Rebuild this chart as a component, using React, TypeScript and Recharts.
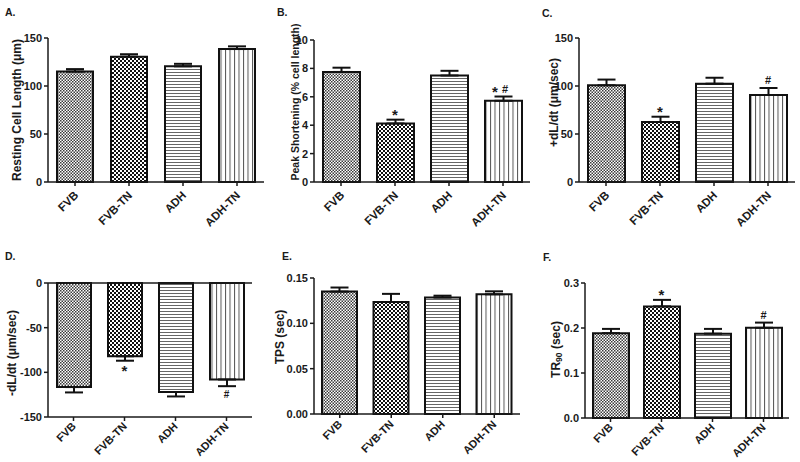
import React from 'react';
import { BarChart, Bar, XAxis, YAxis, ErrorBar, ReferenceDot, ReferenceLine, Cell } from 'recharts';

const FONT = '"Liberation Sans", Arial, Helvetica, sans-serif';
const INK = '#1a1a1a';

const groups = ['FVB', 'FVB-TN', 'ADH', 'ADH-TN'];
const fills = ['url(#patFVB)', 'url(#patFVBTN)', 'url(#patADH)', 'url(#patADHTN)'];

// A. Resting cell length (µm)
const restingLength = [115, 130.5, 120.5, 138.5];
const restingLengthSem = [2.6, 2.6, 2.6, 2.8];
const restingMarks = ['', '', '', ''];

// B. Peak shortening (% cell length)
const peakShortening = [7.75, 4.12, 7.5, 5.72];
const peakShorteningSem = [0.3, 0.27, 0.33, 0.3];
const peakMarks = ['', '*', '', '* #'];

// C. +dL/dt (µm/sec)
const plusDLdt = [100.7, 62.5, 102.4, 90.6];
const plusDLdtSem = [6, 5.5, 6.2, 7.3];
const plusMarks = ['', '*', '', '#'];

// D. -dL/dt (µm/sec)
const minusDLdt = [-116.5, -82, -122, -108];
const minusDLdtSem = [6, 5, 5, 7.5];
const minusMarks = ['', '*', '', '#'];

// E. TPS (sec)
const tps = [0.135, 0.1235, 0.1285, 0.132];
const tpsSem = [0.0045, 0.009, 0.002, 0.0033];
const tpsMarks = ['', '', '', ''];

// F. TR90 (sec)
const tr90 = [0.1885, 0.248, 0.1875, 0.2005];
const tr90Sem = [0.0095, 0.0145, 0.0105, 0.0115];
const tr90Marks = ['', '*', '', '#'];

const ticksA = [0, 50, 100, 150];
const ticksB = [0, 2, 4, 6, 8, 10];
const ticksC = [0, 50, 100, 150];
const ticksD = [-150, -100, -50, 0];
const ticksE = [0, 0.05, 0.1, 0.15];
const ticksF = [0, 0.1, 0.2, 0.3];

type Cfg = {
  left: number; top: number; width: number; height: number;
  mTop: number; mRight: number; yWidth: number; xHeight: number;
  domain: [number, number]; ticks: number[]; digits: number;
  values: number[]; sems: number[]; marks: string[]; barSize: number; negative?: boolean;
  tickDx: number; tickDy: number; tickFs: number;
};

const panels: Cfg[] = [
  { left: 0, top: 0, width: 270, height: 230, mTop: 38, mRight: 6, yWidth: 48, xHeight: 48, domain: [0, 150], ticks: ticksA, digits: 0, values: restingLength, sems: restingLengthSem, marks: restingMarks, barSize: 36, tickDx: 4, tickDy: 8, tickFs: 11.5 },
  { left: 265, top: 0, width: 270, height: 230, mTop: 40, mRight: 5, yWidth: 49, xHeight: 48, domain: [0, 10], ticks: ticksB, digits: 0, values: peakShortening, sems: peakShorteningSem, marks: peakMarks, barSize: 37, tickDx: 4, tickDy: 8, tickFs: 11.5 },
  { left: 530, top: 0, width: 270, height: 230, mTop: 38, mRight: 5, yWidth: 49, xHeight: 48, domain: [0, 150], ticks: ticksC, digits: 0, values: plusDLdt, sems: plusDLdtSem, marks: plusMarks, barSize: 37, tickDx: 4, tickDy: 8, tickFs: 11.5 },
  { left: 0, top: 230, width: 265, height: 232, mTop: 53, mRight: 13, yWidth: 48, xHeight: 45, domain: [-150, 0], ticks: ticksD, digits: 0, values: minusDLdt, sems: minusDLdtSem, marks: minusMarks, barSize: 34, negative: true, tickDx: 3, tickDy: 4, tickFs: 11 },
  { left: 265, top: 230, width: 270, height: 232, mTop: 48, mRight: 15, yWidth: 49, xHeight: 48, domain: [0, 0.15], ticks: ticksE, digits: 2, values: tps, sems: tpsSem, marks: tpsMarks, barSize: 35, tickDx: 3, tickDy: 5, tickFs: 11 },
  { left: 530, top: 230, width: 270, height: 232, mTop: 53, mRight: 11, yWidth: 55, xHeight: 44, domain: [0, 0.3], ticks: ticksF, digits: 1, values: tr90, sems: tr90Sem, marks: tr90Marks, barSize: 36, tickDx: 3, tickDy: 4, tickFs: 11 },
];

const makeXTick = (dx: number, dy: number, fs: number) => (props: any) => {
  const { x, y, payload } = props;
  return (
    <g transform={`translate(${x},${y})`}>
      <text x={dx} y={dy} transform={`rotate(-45 ${dx} ${dy})`} textAnchor="end" fontSize={fs} fontWeight="bold" fontFamily={FONT} fill={INK}>
        {payload.value}
      </text>
    </g>
  );
};

const markShape = (mark: string, negative: boolean) => (p: any) => {
  const { cx, cy } = p;
  const parts = mark.split(' ');
  return (
    <g>
      {parts.map((m, j) => {
        const dx = parts.length > 1 ? (j === 0 ? -8 : 2) : 0;
        const isStar = m === '*';
        const fs = isStar ? 15 : negative ? 10 : 11;
        const y = negative ? cy + (isStar ? 15 : 12) : cy + (isStar ? 0 : -4);
        return (
          <text key={j} x={cx + dx} y={y} textAnchor="middle" fontSize={fs} fontWeight="bold" fontFamily={FONT} fill={INK}>
            {m}
          </text>
        );
      })}
    </g>
  );
};

function Panel({ c }: { c: Cfg }) {
  const data = groups.map((g, i) => ({
    group: g,
    value: c.values[i],
    err: c.negative ? [c.sems[i], 0] : [0, c.sems[i]],
  }));
  const axisStyle = { stroke: INK, strokeWidth: 1.5 };
  return (
    <div style={{ position: 'absolute', left: c.left, top: c.top, width: c.width, height: c.height }}>
      <BarChart width={c.width} height={c.height} data={data} margin={{ top: c.mTop, right: c.mRight, bottom: 0, left: 0 }}>
        <XAxis
          dataKey="group"
          type="category"
          height={c.xHeight}
          interval={0}
          tick={makeXTick(c.tickDx, c.tickDy, c.tickFs)}
          tickSize={4}
          tickMargin={2}
          axisLine={axisStyle}
          tickLine={axisStyle}
        />
        <YAxis
          type="number"
          width={c.yWidth}
          domain={c.domain}
          ticks={c.ticks}
          interval={0}
          tickFormatter={(v: number) => v.toFixed(c.digits)}
          tick={{ fontSize: 11, fontWeight: 'bold', fill: INK, fontFamily: FONT }}
          tickSize={4}
          tickMargin={2}
          axisLine={axisStyle}
          tickLine={axisStyle}
        />
        {c.negative && <ReferenceLine y={0} stroke={INK} strokeWidth={1.5} />}
        <Bar dataKey="value" barSize={c.barSize} stroke="#111" strokeWidth={2} isAnimationActive={false}>
          {data.map((d, i) => (
            <Cell key={d.group} fill={fills[i]} />
          ))}
          <ErrorBar dataKey="err" width={9} strokeWidth={2} stroke="#111" direction="y" />
        </Bar>
        {c.marks.map((m, i) =>
          m ? (
            <ReferenceDot
              key={i}
              x={groups[i]}
              y={c.negative ? c.values[i] - c.sems[i] : c.values[i] + c.sems[i]}
              r={0}
              isFront
              shape={markShape(m, !!c.negative)}
            />
          ) : null
        )}
      </BarChart>
    </div>
  );
}

const titles = [
  { t: 'A.', x: 5, y: 15.5 },
  { t: 'B.', x: 277, y: 15.5 },
  { t: 'C.', x: 542, y: 16.5 },
  { t: 'D.', x: 5, y: 260 },
  { t: 'E.', x: 282, y: 260 },
  { t: 'F.', x: 543, y: 261 },
];

const yLabels = [
  { t: 'Resting Cell Length (μm)', x: 17, y: 110, fs: 12 },
  { t: 'Peak Shortening (% cell length)', x: 295, y: 102, fs: 10.5 },
  { t: '+dL/dt (μm/sec)', x: 554, y: 102.5, fs: 12 },
  { t: '-dL/dt (μm/sec)', x: 12, y: 353, fs: 12 },
  { t: 'TPS (sec)', x: 280, y: 337, fs: 12 },
];

export default function App() {
  return (
    <div style={{ position: 'absolute', left: 0, top: 0, width: 800, height: 462, background: '#fff', overflow: 'hidden' }}>
      <svg width={0} height={0} style={{ position: 'absolute' }}>
        <defs>
          <pattern id="patFVB" width="3" height="3" patternUnits="userSpaceOnUse">
            <rect width="3" height="3" fill="#fff" />
            <rect x="0" y="0" width="1.5" height="1.5" fill="#3a3a3a" />
            <rect x="1.5" y="1.5" width="1.5" height="1.5" fill="#3a3a3a" />
          </pattern>
          <pattern id="patFVBTN" width="4" height="4" patternUnits="userSpaceOnUse">
            <rect width="4" height="4" fill="#fff" />
            <rect x="0" y="0" width="2" height="2" fill="#111" />
            <rect x="2" y="2" width="2" height="2" fill="#111" />
          </pattern>
          <pattern id="patADH" width="3" height="3" patternUnits="userSpaceOnUse">
            <rect width="3" height="3" fill="#fff" />
            <rect x="0" y="0" width="3" height="1" fill="#666" />
          </pattern>
          <pattern id="patADHTN" width="4.5" height="4.5" patternUnits="userSpaceOnUse">
            <rect width="4.5" height="4.5" fill="#fff" />
            <rect x="0" y="0" width="1" height="4.5" fill="#555" />
          </pattern>
        </defs>
      </svg>
      {panels.map((c, i) => (
        <Panel key={i} c={c} />
      ))}
      <svg width={800} height={462} style={{ position: 'absolute', left: 0, top: 0, pointerEvents: 'none' }}>
        {titles.map((d) => (
          <text key={d.t} x={d.x} y={d.y} fontSize={10.5} fontWeight="bold" fontFamily={FONT} fill={INK}>
            {d.t}
          </text>
        ))}
        {yLabels.map((d) => (
          <text key={d.t} x={d.x} y={d.y} transform={`rotate(-90, ${d.x}, ${d.y})`} textAnchor="middle" dominantBaseline="central" fontSize={d.fs} fontWeight="bold" fontFamily={FONT} fill={INK}>
            {d.t}
          </text>
        ))}
        <text x={556} y={349.5} transform="rotate(-90, 556, 349.5)" textAnchor="middle" dominantBaseline="central" fontSize={12} fontWeight="bold" fontFamily={FONT} fill={INK}>
          <tspan>TR</tspan>
          <tspan fontSize={8.5} dy={3}>90</tspan>
          <tspan dy={-3}> (sec)</tspan>
        </text>
      </svg>
    </div>
  );
}
